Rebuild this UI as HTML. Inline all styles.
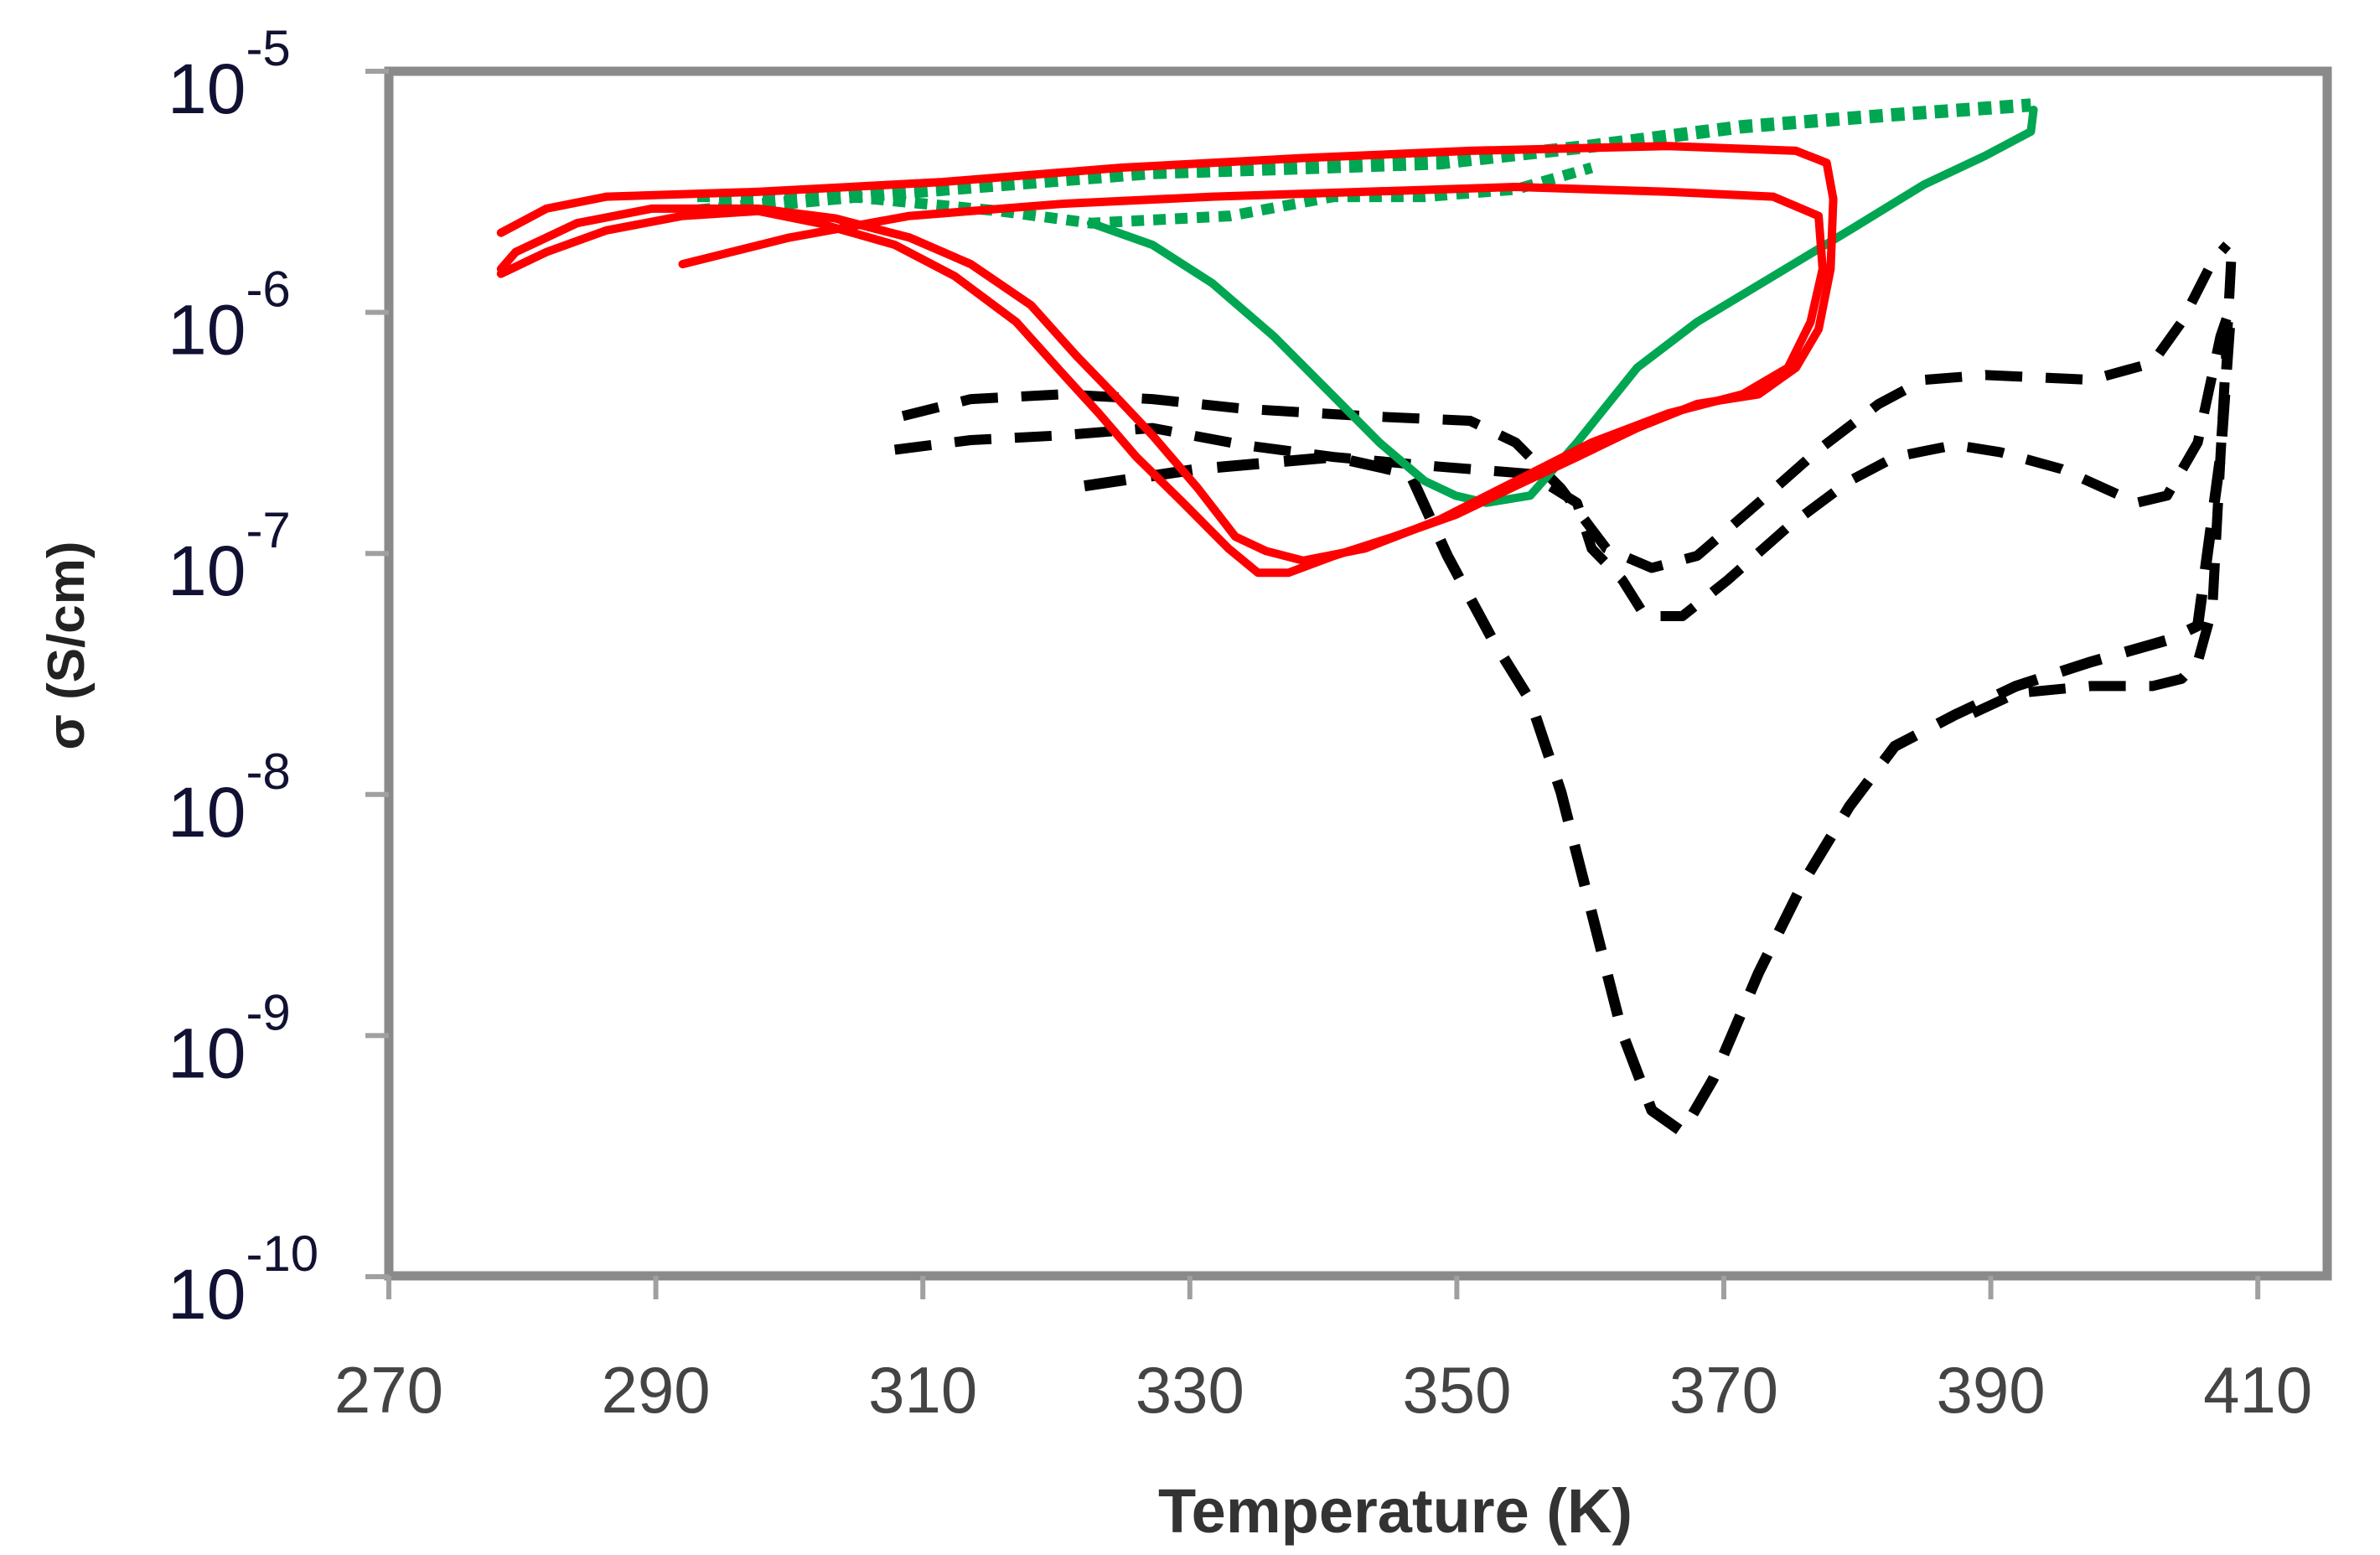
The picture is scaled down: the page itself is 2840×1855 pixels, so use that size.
<!DOCTYPE html>
<html><head><meta charset="utf-8"><style>
html,body{margin:0;padding:0;background:#fff;}
svg{display:block;}
</style></head><body>
<svg id="chart" width="2840" height="1855" viewBox="0 0 2840 1855" xmlns="http://www.w3.org/2000/svg">
<rect x="0" y="0" width="2840" height="1855" fill="#fff"/>
<g id="plot"></g>
<g id="axes"></g>
<text x="1665" y="1828" font-family="Liberation Sans, sans-serif" font-weight="bold" font-size="74" fill="#333" text-anchor="middle">Temperature (K)</text>
<text transform="translate(100,770) rotate(-90)" font-family="Liberation Sans, DejaVu Sans, sans-serif" font-weight="bold" font-size="62" fill="#222" text-anchor="middle">σ (S/cm)</text>
</svg>
<script>
const xTicks = [270, 290, 310, 330, 350, 370, 390, 410];
const yTicks = [-5, -6, -7, -8, -9, -10];
// red loops (T in K, log10 sigma)
const redT1 = [278.4,281.8,286.3,297.7,311.3,324.9,338.5,351.0,365.8,375.4,377.7,378.2,378.0,377.1,375.4,372.6,368.0,363.5,359.0,354.4,349.9,345.3,340.8,337.4,335.1,332.9,329.5,326.0,323.2,320.4,317.0,312.4,307.9,302.2,297.7,292.0,286.3,281.8,278.4];
const redL1 = [-5.67,-5.57,-5.52,-5.50,-5.46,-5.40,-5.36,-5.33,-5.31,-5.33,-5.38,-5.53,-5.82,-6.07,-6.23,-6.34,-6.38,-6.48,-6.60,-6.72,-6.84,-6.93,-7.01,-7.08,-7.08,-6.98,-6.79,-6.60,-6.42,-6.25,-6.04,-5.85,-5.72,-5.63,-5.58,-5.60,-5.66,-5.75,-5.84];
const redT2 = [292.0,300.0,309.0,320.4,331.7,343.1,354.4,365.8,373.7,377.1,377.4,376.5,374.8,371.4,365.8,360.1,354.4,348.7,343.1,338.5,335.7,333.4,330.6,327.2,324.3,321.5,318.1,313.6,309.0,303.4,297.7,289.7,284.1,279.5,278.4];
const redL2 = [-5.80,-5.69,-5.60,-5.55,-5.52,-5.50,-5.48,-5.50,-5.52,-5.60,-5.82,-6.04,-6.23,-6.34,-6.42,-6.54,-6.70,-6.86,-6.98,-7.03,-6.99,-6.93,-6.73,-6.51,-6.34,-6.18,-5.97,-5.80,-5.69,-5.61,-5.57,-5.57,-5.63,-5.75,-5.82];
// green
const grnDotT = [293.1,304.5,315.8,327.2,338.5,348.7,360.1,371.4,382.8,393.0];
const grnDotL = [-5.58,-5.52,-5.47,-5.42,-5.40,-5.38,-5.31,-5.23,-5.18,-5.14];
const grnDot2T = [293.1,304.5,315.8,322.6,333.0,340.8,347.6,354.4,360.1];
const grnDot2L = [-5.52,-5.52,-5.58,-5.63,-5.60,-5.52,-5.52,-5.49,-5.40];
const grnT = [322.6,327.2,331.7,336.3,340.8,344.2,347.6,349.9,352.2,355.5,359.0,363.5,368.0,373.7,379.4,385.0,389.6,393.0,393.2];
const grnL = [-5.63,-5.72,-5.88,-6.10,-6.35,-6.54,-6.70,-6.76,-6.79,-6.76,-6.54,-6.23,-6.04,-5.85,-5.66,-5.47,-5.35,-5.25,-5.16];
// black dashed
const blk1T = [308.5,313.6,320.4,327.2,334.0,343.1,351.0,354.4,357.8,361.2,364.6,368.0,372.6,377.1,381.6,385.0,389.6,397.5,402.1,404.3,406.6,407.7];
const blk1L = [-6.43,-6.36,-6.34,-6.36,-6.40,-6.43,-6.45,-6.54,-6.73,-6.98,-7.06,-7.01,-6.79,-6.57,-6.38,-6.28,-6.26,-6.28,-6.21,-6.04,-5.79,-5.72];
const blk2T = [307.9,313.6,320.4,327.2,334.0,340.8,348.7,355.5,359.0,360.1,362.4,364.1,366.9,370.3,374.8,379.4,382.8,387.3,390.7,395.3,400.9,403.2,405.5,407.2,408.0];
const blk2L = [-6.57,-6.53,-6.51,-6.48,-6.55,-6.60,-6.64,-6.67,-6.79,-6.98,-7.11,-7.26,-7.26,-7.11,-6.89,-6.70,-6.60,-6.55,-6.58,-6.65,-6.79,-6.76,-6.54,-6.10,-5.97];
const blk3T = [322.1,330.6,340.8,346.5,349.3,352.7,355.5,357.8,360.1,362.4,364.6,366.9,369.2,372.6,376.0,379.4,382.8,387.3,391.9,397.5,403.2,405.5,407.2,408.0];
const blk3L = [-6.72,-6.65,-6.60,-6.67,-7.01,-7.36,-7.61,-7.99,-8.49,-8.99,-9.31,-9.40,-9.18,-8.74,-8.36,-8.05,-7.80,-7.67,-7.55,-7.45,-7.36,-7.30,-6.60,-5.97];
const blk4T = [408.0,407.7,407.2,406.6,405.5,404.3,402.1,397.5,391.9,388.4];
const blk4L = [-5.79,-6.10,-6.60,-7.23,-7.45,-7.52,-7.55,-7.55,-7.58,-7.67];

const NS='http://www.w3.org/2000/svg';
function X(t){return 464+(t-270)*15.93;}
function Y(l){return 85+(-5-l)*287.6;}
const plot=document.getElementById('plot');
const axes=document.getElementById('axes');
function mk(tag,attrs,parent){const e=document.createElementNS(NS,tag);for(const k in attrs)e.setAttribute(k,attrs[k]);parent.appendChild(e);return e;}
function series(T,L,color,w,dash,name){
  let d='';
  for(let i=0;i<T.length;i++){d+=(i?'L':'M')+X(T[i]).toFixed(1)+','+Y(L[i]).toFixed(1);}
  const p=mk('path',{d:d,fill:'none',stroke:color,'stroke-width':w,'stroke-linejoin':'round','stroke-linecap':dash?'butt':'round'},plot);
  if(dash)p.setAttribute('stroke-dasharray',dash);
  
  
}
series(blk1T,blk1L,'#000',12,'44 28','black-dashed-upper');
series(blk2T,blk2L,'#000',12,'44 28','black-dashed-middle');
series(blk3T,blk3L,'#000',13,'50 30','black-dashed-deep');
series(blk4T,blk4L,'#000',12,'44 28','black-dashed-right');
series(grnDotT,grnDotL,'#00a651',16,'16 10','green-dotted-upper');
series(grnDot2T,grnDot2L,'#00a651',13,'15 11','green-dotted-lower');
series(grnT,grnL,'#00a651',10,null,'green-solid');
series(redT1,redL1,'#ff0000',10,null,'red-loop-outer');
series(redT2,redL2,'#ff0000',10,null,'red-loop-inner');

// frame
const fr=mk('rect',{x:464,y:85,width:2313,height:1437,fill:'none',stroke:'#8a8a8a','stroke-width':11},axes);


xTicks.forEach(t=>{
  const tk=mk('line',{x1:X(t),x2:X(t),y1:1522,y2:1550,stroke:'#a0a0a0','stroke-width':6},axes);
  
  
  const lb=mk('text',{x:X(t),y:1685,'font-family':'Liberation Sans, sans-serif','font-size':78,fill:'#444','text-anchor':'middle'},axes);
  lb.textContent=t;
  
  
});
yTicks.forEach(l=>{
  const y=Y(l);
  const tk=mk('line',{x1:436,x2:464,y1:y,y2:y,stroke:'#a0a0a0','stroke-width':6},axes);
  
  
  const lb=mk('text',{x:200,y:y+50,'font-family':'Liberation Sans, sans-serif','font-size':84,fill:'#111133'},axes);
  
  
  const b=mk('tspan',{},lb);b.textContent='10';
  const s=mk('tspan',{dy:-57,'font-size':60},lb);s.textContent='-'+Math.abs(l);
});
</script>
</body></html>
